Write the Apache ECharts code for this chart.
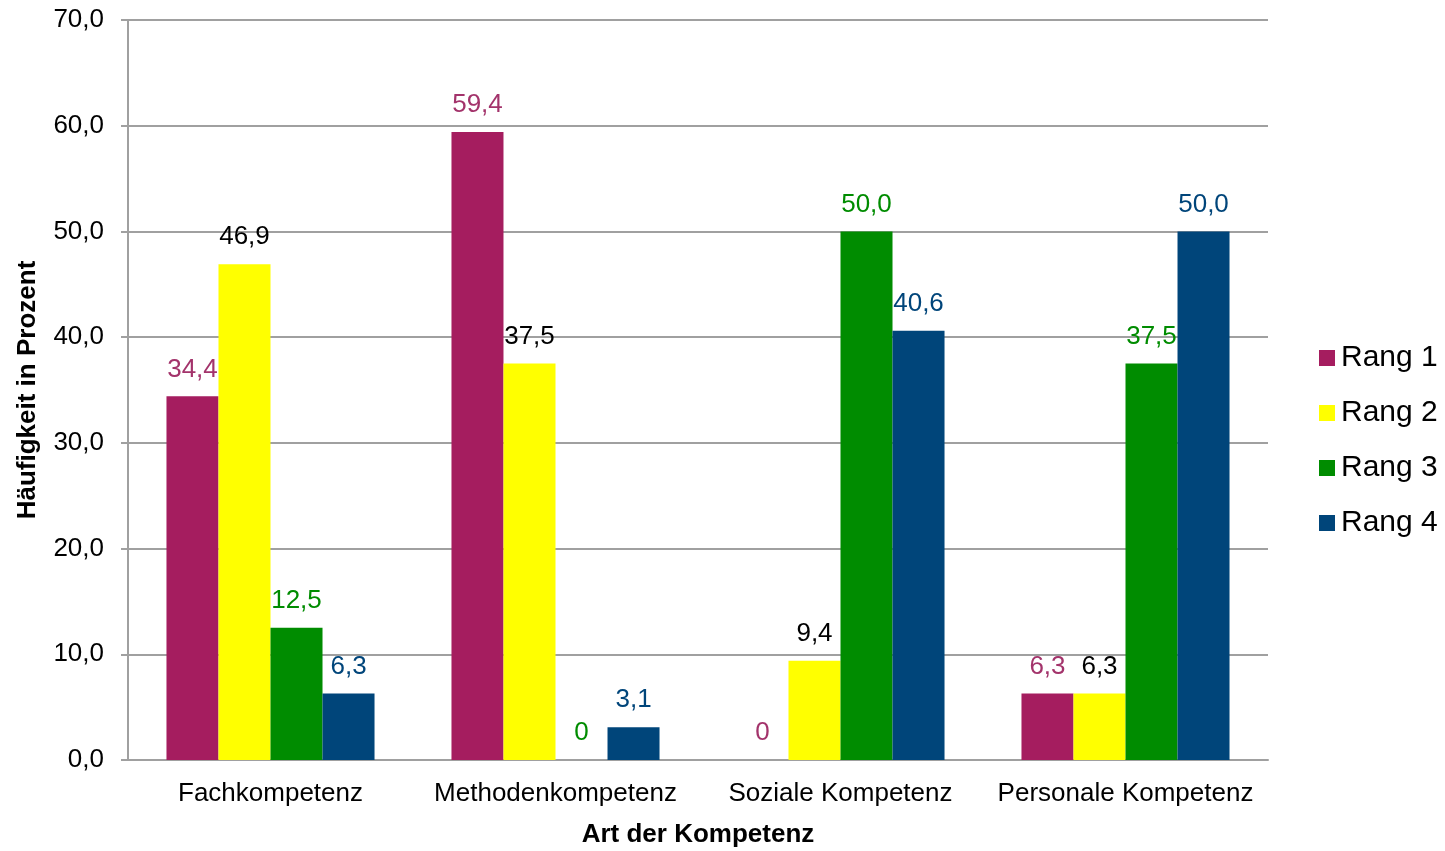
<!DOCTYPE html>
<html>
<head>
<meta charset="utf-8">
<script src="https://cdn.jsdelivr.net/npm/echarts@6/dist/echarts.min.js"></script>
<style>
  html, body { margin: 0; padding: 0; background: #fff; }
  #chart { width: 1445px; height: 851px; }
</style>
</head>
<body>
<div id="chart"></div>
<script>
// Kategorien und Werte (Häufigkeit in Prozent)
const categories = ['Fachkompetenz', 'Methodenkompetenz', 'Soziale Kompetenz', 'Personale Kompetenz'];
const seriesNames = ['Rang 1', 'Rang 2', 'Rang 3', 'Rang 4'];
const rang1 = [34.4, 59.4, 0, 6.3];
const rang2 = [46.9, 37.5, 9.4, 6.3];
const rang3 = [12.5, 0, 50.0, 37.5];
const rang4 = [6.3, 3.1, 40.6, 50.0];

const barColors = ['#A51D5F', '#FFFF00', '#008C00', '#00457A'];
const labelColors = ['#A3336B', '#000000', '#008C00', '#00457A'];
const FONT = '"Liberation Sans", Arial, sans-serif';

function fmt(v) {
  return v === 0 ? '0' : v.toFixed(1).replace('.', ',');
}

const values = [rang1, rang2, rang3, rang4];

const chart = echarts.init(document.getElementById('chart'));
chart.setOption({
  animation: false,
  textStyle: { fontFamily: FONT },
  grid: { left: 128, right: 177, top: 20, bottom: 91, outerBoundsMode: 'none', containLabel: false },
  legend: {
    orient: 'vertical',
    left: 1314,
    top: 338,
    icon: 'rect',
    itemWidth: 16,
    itemHeight: 16,
    itemGap: 25,
    data: seriesNames,
    textStyle: { fontFamily: FONT, fontSize: 30, color: '#000', lineHeight: 30, padding: [0, 0, 0, 1] }
  },
  xAxis: {
    type: 'category',
    data: categories,
    name: 'Art der Kompetenz',
    nameLocation: 'middle',
    nameGap: 62,
    nameTextStyle: { fontFamily: FONT, fontSize: 26, fontWeight: 'bold', color: '#000' },
    axisLine: { lineStyle: { color: '#A0A0A0', width: 2 } },
    axisTick: { show: false },
    axisLabel: { interval: 0, fontFamily: FONT, fontSize: 26, color: '#000', margin: 21 }
  },
  yAxis: {
    type: 'value',
    min: 0,
    max: 70,
    interval: 10,
    name: 'Häufigkeit in Prozent',
    nameLocation: 'middle',
    nameGap: 87,
    nameTextStyle: { fontFamily: FONT, fontSize: 26, fontWeight: 'bold', color: '#000' },
    axisLine: { show: true, lineStyle: { color: '#A0A0A0', width: 2 } },
    axisTick: { show: true, length: 7, lineStyle: { color: '#A0A0A0', width: 2 } },
    splitLine: { lineStyle: { color: '#A0A0A0', width: 2 } },
    axisLabel: {
      fontFamily: FONT, fontSize: 26, color: '#000', margin: 24,
      formatter: v => v.toFixed(1).replace('.', ',')
    }
  },
  series: seriesNames.map((name, i) => ({
    name: name,
    type: 'bar',
    data: values[i],
    barGap: '0%',
    barCategoryGap: '27%',
    itemStyle: { color: barColors[i] },
    label: {
      show: true,
      position: 'top',
      distance: 14,
      fontFamily: FONT,
      fontSize: 26,
      color: labelColors[i],
      formatter: p => fmt(p.value)
    }
  }))
});
</script>
</body>
</html>
